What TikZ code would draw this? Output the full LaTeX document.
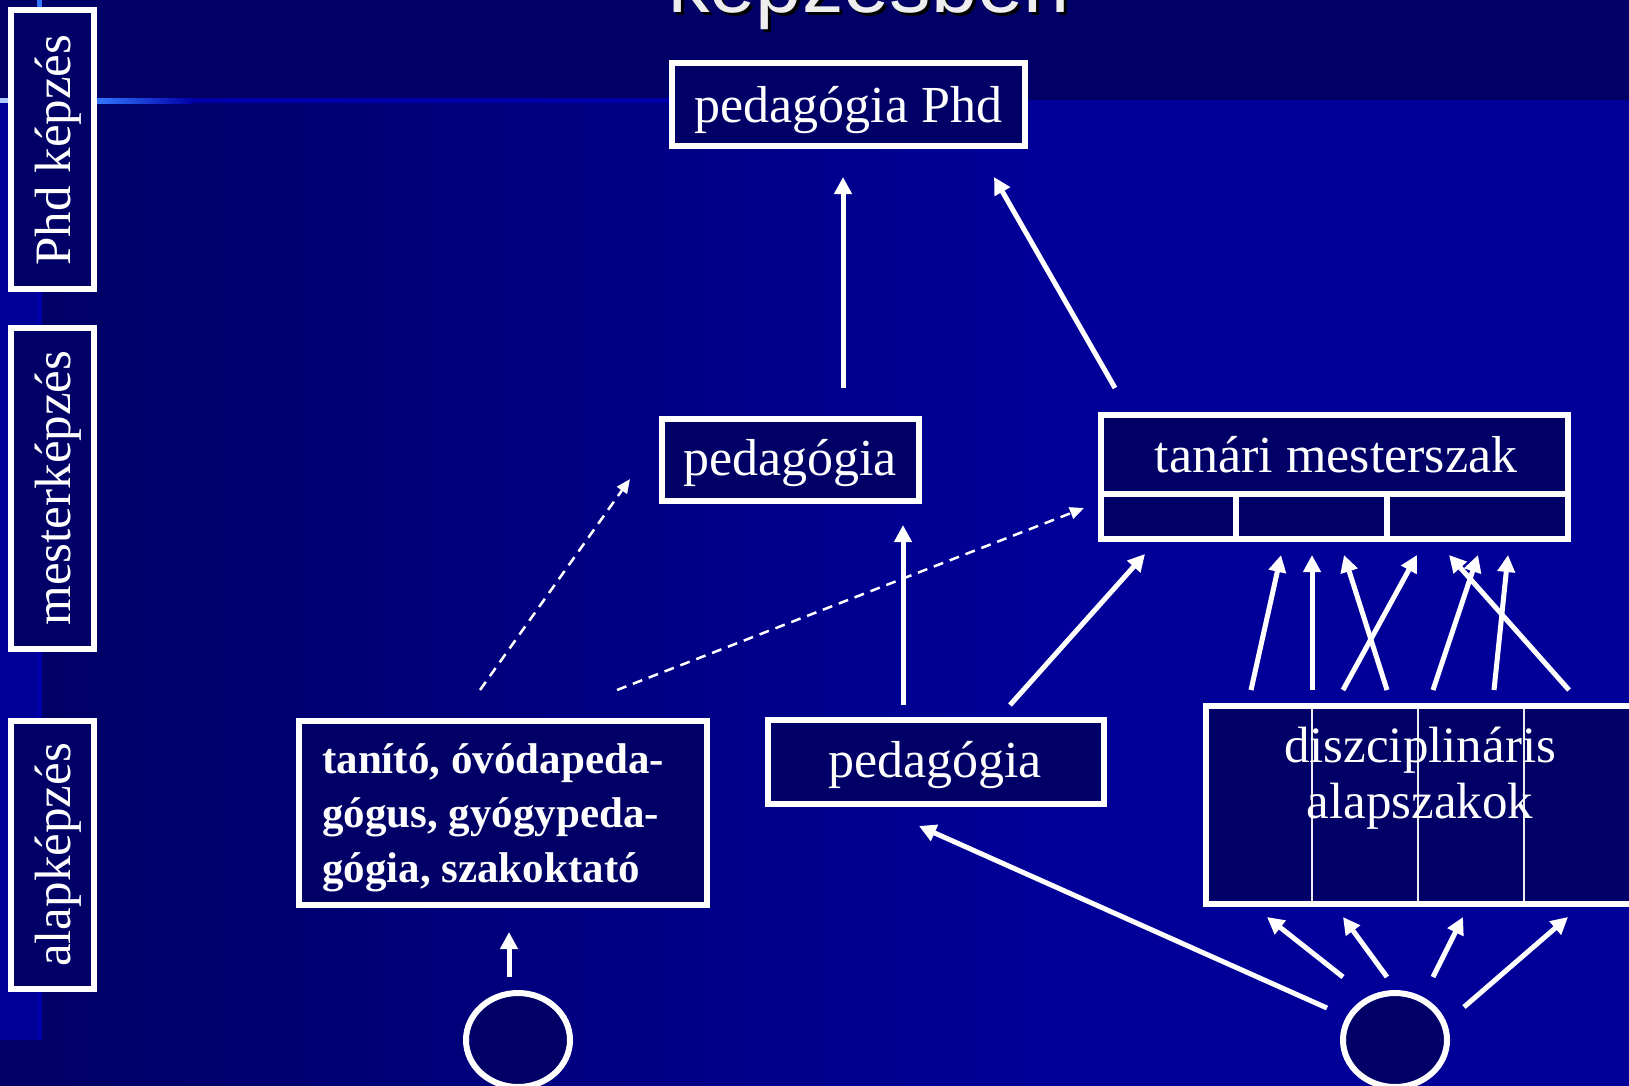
\documentclass[tikz,border=0pt]{standalone}
\usepackage{fontspec}
\setmainfont{Liberation Serif}
\newfontfamily\titlefont{Liberation Sans}
\usetikzlibrary{arrows.meta,shapes.geometric,calc}
\definecolor{navy}{HTML}{000066}
\definecolor{brightblue}{HTML}{000099}
\definecolor{lineblue}{HTML}{0000A8}
\definecolor{glowblue}{HTML}{3377FF}
\definecolor{titlegray}{HTML}{EEEEEE}
\tikzset{
  boxd/.style={draw=white, line width=6pt, fill=navy, inner sep=0pt, outer sep=0pt},
  txt/.style={text=white, inner sep=0pt, font=\fontsize{52}{60}\selectfont},
  disztxt/.style={text=white, inner sep=0pt, font=\fontsize{51}{60}\selectfont},
  boldtxt/.style={text=white, inner sep=0pt, font=\bfseries\fontsize{43}{54}\selectfont},
  labtxt/.style={text=white, inner sep=0pt, rotate=90, anchor=base, font=\fontsize{51}{56}\selectfont},
  arr/.style={draw=white, line width=5pt, -{Triangle[length=17pt,width=17pt]}},
  darr/.style={draw=white, line width=2.5pt, dash pattern=on 10pt off 7pt, -{Triangle[length=14pt,width=12pt]}},
  ovalnode/.style={draw=white, line width=6pt, fill=navy, ellipse, inner sep=0pt, outer sep=0pt, minimum width=104pt, minimum height=94pt},
}
\begin{document}
\begin{tikzpicture}[x=1pt,y=-1pt]
\useasboundingbox (0,0) rectangle (1629,1085);
% background (drawn a little past the page edges)
\fill[navy] (-10,-10) rectangle (1640,1100);
\shade[left color=navy, right color=brightblue] (37,100) rectangle (1050,1100);
\fill[brightblue] (1049,100) rectangle (1640,1100);
\fill[brightblue] (-10,100) rectangle (37,1040);
\fill[lineblue] (-10,98) rectangle (670,103);
\shade[left color=glowblue, right color=lineblue] (97,98) rectangle (192,103);
\fill[glowblue!40!white] (-10,98) rectangle (8,103);
\fill[lineblue] (37,-10) rectangle (42,1040);
\fill[glowblue] (37,-10) rectangle (42,8);
\clip (0,0) rectangle (1629,1085);
% title (cut off at the top)
\node[anchor=base west, inner sep=0pt, text=black, font=\titlefont\fontsize{83}{90}\selectfont] (titleshadow) at (671,15) {képzésben};
\node[anchor=base west, inner sep=0pt, text=titlegray, font=\titlefont\fontsize{83}{90}\selectfont] (title) at (668,12) {képzésben};
% level labels
\node[boxd, minimum width=83pt, minimum height=279pt] (phdlab) at (52.5,149.5) {};
\node[labtxt] (phdlabt) at (70,150) {Phd képzés};
\node[boxd, minimum width=83pt, minimum height=321pt] (mestlab) at (52.5,488.5) {};
\node[labtxt] (mestlabt) at (70,488) {mesterképzés};
\node[boxd, minimum width=83pt, minimum height=268pt] (alaplab) at (52.5,855) {};
\node[labtxt] (alaplabt) at (70,855) {alapképzés};
% boxes
\node[boxd, minimum width=353pt, minimum height=83pt] (phd) at (848.5,104.5) {};
\node[txt, anchor=base] (phdt) at (848.5,122) {pedagógia Phd};
\node[boxd, minimum width=257pt, minimum height=82pt] (mid) at (790.5,460) {};
\node[txt, anchor=base] (midt) at (790,475) {pedagógia};
\node[boxd, minimum width=467pt, minimum height=124pt] (tanari) at (1334.5,477) {};
\draw[white, line width=6pt] (1101,494) -- (1568,494);
\draw[white, line width=6pt] (1236,494) -- (1236,539);
\draw[white, line width=6pt] (1387,494) -- (1387,539);
\node[txt, anchor=base] (tanarit) at (1336,472) {tanári mesterszak};
\node[boxd, minimum width=336pt, minimum height=84pt] (bot) at (936,762) {};
\node[txt, anchor=base] (bott) at (935,777) {pedagógia};
\node[boxd, minimum width=408pt, minimum height=184pt] (tanito) at (503,813) {};
\node[boldtxt, anchor=base west] (tl1) at (322,773) {tanító, óvódapeda-};
\node[boldtxt, anchor=base west] (tl2) at (322,827) {gógus, gyógypeda-};
\node[boldtxt, anchor=base west] (tl3) at (322,882) {gógia, szakoktató};
\node[boxd, minimum width=451pt, minimum height=198pt] (disz) at (1431.5,805) {};
\draw[white!85!gray, line width=2pt] (1312,709) -- (1312,901);
\draw[white!85!gray, line width=2pt] (1418,709) -- (1418,901);
\draw[white!85!gray, line width=2pt] (1524,709) -- (1524,901);
\node[disztxt, anchor=base] (d1) at (1420,762) {diszciplináris};
\node[disztxt, anchor=base] (d2) at (1420,818) {alapszakok};
\node[ovalnode] (lell) at (518,1040) {};
\node[ovalnode] (rell) at (1395,1040) {};
% connectors
\draw[arr] ($(mid.north)+(52.5,-31)$) -- ($(phd.south)+(-5.5,31)$);
\draw[arr] ($(tanari.north)+(-219.5,-27)$) -- ($(phd.south)+(145.5,31)$);
\draw[arr] ($(bot.north)+(-33,-15)$) -- ($(mid.south)+(112.5,24)$);
\draw[arr] ($(bot.north)+(74,-15)$) -- ($(tanari.south)+(-189.5,15)$);
\draw[darr] ($(tanito.north)+(-23,-31)$) -- ($(mid.west)+(-32,19)$);
\draw[darr] ($(tanito.north)+(114,-31)$) -- ($(tanari.west)+(-17,31)$);
\draw[arr] ($(rell.center)+(-68,-32)$) -- ($(bot.south)+(-17,22)$);
\draw[arr] ($(rell.center)+(-52,-63)$) -- ($(disz.south)+(-164.5,13)$);
\draw[arr] ($(rell.center)+(-8,-63)$) -- ($(disz.south)+(-88.5,13)$);
\draw[arr] ($(rell.center)+(38,-63)$) -- ($(disz.south)+(31.5,13)$);
\draw[arr] ($(rell.center)+(69,-33)$) -- ($(disz.south)+(136.5,13)$);
\draw[arr] ($(lell.center)+(-9,-63)$) -- ($(tanito.south)+(6,27)$);
\draw[arr] ($(disz.north)+(-180.5,-16)$) -- ($(tanari.south)+(-53.5,16)$);
\draw[arr] ($(disz.north)+(-119.5,-16)$) -- ($(tanari.south)+(-22.5,16)$);
\draw[arr] ($(disz.north)+(-44.5,-16)$) -- ($(tanari.south)+(9.5,16)$);
\draw[arr] ($(disz.north)+(-88.5,-16)$) -- ($(tanari.south)+(82.5,16)$);
\draw[arr] ($(disz.north)+(1.5,-16)$) -- ($(tanari.south)+(143.5,16)$);
\draw[arr] ($(disz.north)+(62.5,-16)$) -- ($(tanari.south)+(173.5,16)$);
\draw[arr] ($(disz.north)+(137.5,-16)$) -- ($(tanari.south)+(114.5,16)$);
\end{tikzpicture}
\end{document}
